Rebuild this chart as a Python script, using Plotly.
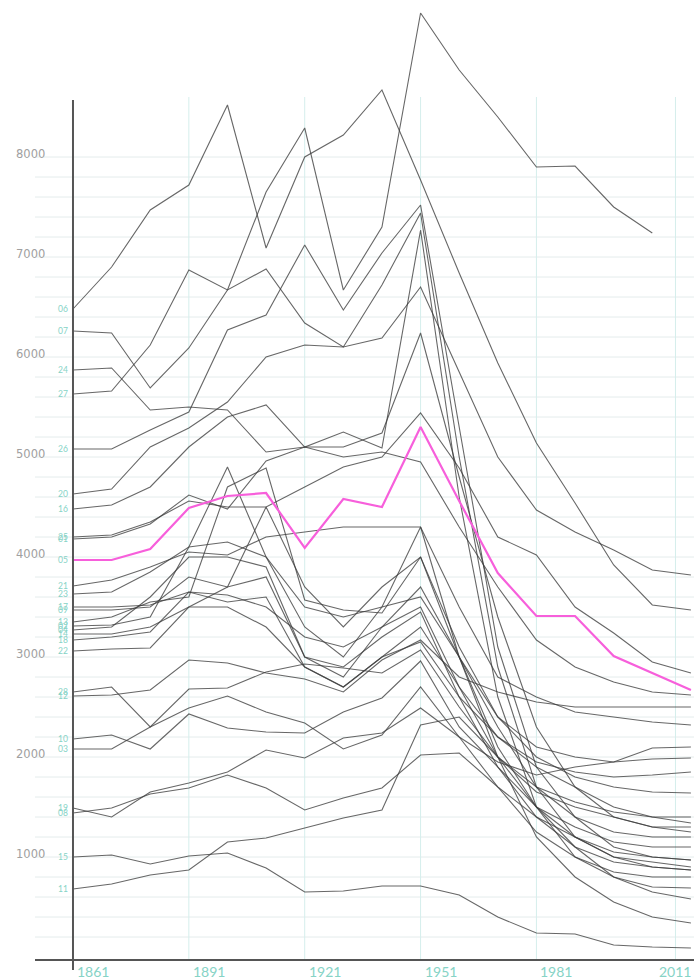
import plotly.graph_objects as go

# ---------------- data ----------------
YEARS = [1861, 1871, 1881, 1891, 1901, 1911, 1921, 1931, 1941, 1951,
         1961, 1971, 1981, 1991, 2001, 2011, 2021]
TICK_LABELS = ["1861", "1891", "1921", "1951", "1981", "2011"]
TICK_POS = [1861, 1891, 1921, 1951, 1981, 2017]
Y_LABELS = [1000, 2000, 3000, 4000, 5000, 6000, 7000, 8000]
HIGHLIGHT = "05"

S06 = [6480, 6900, 7470, 7720, 8520, 7090, 8000, 8220, 8670, 7770, 6840, 5940, 5140, 4540, 3920, 3520, 3470]
S07 = [6260, 6240, 5690, 6090, 6670, 7650, 8290, 6670, 7300, 9440, 8870, 8400, 7900, 7910, 7500, 7240, None]
S24 = [5870, 5890, 5470, 5500, 5470, 5050, 5100, 5100, 5240, 6240, 4800, 3400, 2300, 1700, 1400, 1300, 1300]
S27 = [5630, 5660, 6120, 6870, 6670, 6880, 6340, 6100, 6190, 6700, 5850, 5000, 4470, 4250, 4070, 3870, 3820]
S26 = [5080, 5080, 5270, 5450, 6270, 6420, 7120, 6470, 7040, 7520, 5300, 3100, 1900, 1400, 1100, 1000, 970]
S20 = [4630, 4680, 5100, 5290, 5550, 6000, 6120, 6100, 6720, 7440, 5000, 2900, 1700, 1200, 1000, 950, 900]
S16 = [4480, 4520, 4700, 5100, 5400, 5520, 5100, 5250, 5090, 7270, 4600, 2600, 1500, 1000, 800, 700, 690]
S25 = [4200, 4220, 4350, 4560, 4500, 4500, 4700, 4900, 5000, 5440, 4890, 4200, 4020, 3500, 3240, 2950, 2840]
S01 = [4180, 4200, 4330, 4620, 4480, 4960, 5100, 5000, 5050, 4950, 4300, 3700, 3170, 2900, 2750, 2650, 2620]
S05 = [3970, 3970, 4080, 4490, 4610, 4640, 4090, 4580, 4500, 5300, 4560, 3840, 3410, 3410, 3010, 2840, 2670]
S21 = [3710, 3770, 3900, 4050, 4020, 4200, 4250, 4300, 4300, 4300, 3500, 2800, 2600, 2450, 2400, 2350, 2320]
S23 = [3630, 3650, 3850, 4100, 4150, 4000, 3500, 3400, 3500, 3600, 3000, 2300, 1700, 1400, 1250, 1200, 1200]
S17 = [3500, 3500, 3520, 3650, 3620, 3500, 3200, 3100, 3300, 3500, 2700, 2000, 1500, 1200, 1050, 1000, 970]
S09 = [3470, 3470, 3500, 3800, 3700, 3800, 3000, 2900, 3200, 3450, 2600, 1900, 1400, 1100, 950, 900, 870]
S13 = [3350, 3400, 3550, 3600, 4700, 4890, 3570, 3470, 3440, 4000, 3000, 2100, 1500, 1100, 800, 650, 580]
S02 = [3310, 3320, 3400, 4100, 4900, 4000, 3300, 3000, 3500, 4300, 3000, 2000, 1200, 800, 550, 400, 340]
S04 = [3270, 3300, 3600, 4000, 4000, 3900, 3000, 2800, 3300, 3700, 3000, 2400, 2100, 2000, 1950, 1980, 1990]
S14 = [3230, 3230, 3300, 3500, 3700, 4500, 3700, 3300, 3700, 4000, 3100, 2400, 2000, 1800, 1700, 1650, 1640]
S18 = [3170, 3200, 3250, 3650, 3550, 3600, 2900, 2700, 3000, 3300, 2700, 2200, 1900, 1700, 1500, 1400, 1340]
S22 = [3060, 3080, 3090, 3500, 3500, 3300, 2900, 2700, 3000, 3150, 2600, 2200, 1950, 1850, 1800, 1820, 1850]
S28 = [2650, 2700, 2300, 2680, 2690, 2850, 2930, 2890, 2840, 3070, 2500, 2000, 1700, 1550, 1450, 1400, 1400]
S12 = [2610, 2620, 2670, 2970, 2940, 2840, 2780, 2650, 2970, 3170, 2800, 2650, 2550, 2500, 2500, 2500, 2500]
S10 = [2180, 2220, 2080, 2430, 2290, 2250, 2240, 2450, 2590, 2960, 2300, 1900, 1500, 1300, 1150, 1100, 1100]
S03 = [2080, 2080, 2300, 2490, 2610, 2450, 2340, 2080, 2220, 2700, 2200, 1700, 1250, 1000, 850, 800, 800]
S19 = [1490, 1400, 1650, 1740, 1850, 2070, 1990, 2190, 2240, 2490, 2200, 1950, 1820, 1900, 1950, 2090, 2100]
S08 = [1440, 1490, 1630, 1690, 1820, 1690, 1470, 1590, 1690, 2020, 2040, 1700, 1400, 1200, 1000, 900, 870]
S15 = [1000, 1020, 930, 1010, 1040, 890, 650, 660, 710, 710, 620, 400, 240, 230, 120, 100, 90]
S11 = [680, 730, 820, 870, 1150, 1190, 1290, 1390, 1470, 2320, 2400, 2000, 1650, 1500, 1400, 1300, 1250]

SERIES = {
    "06": S06, "07": S07, "24": S24, "27": S27, "26": S26, "20": S20, "16": S16,
    "25": S25, "01": S01, "05": S05, "21": S21, "23": S23, "17": S17, "09": S09,
    "13": S13, "02": S02, "04": S04, "14": S14, "18": S18, "22": S22, "28": S28,
    "12": S12, "10": S10, "03": S03, "19": S19, "08": S08, "15": S15, "11": S11,
}

# ---------------- style ----------------
W, H = 694, 979
X_RANGE = [1842.1, 2021.8]
Y_RANGE = [-220, 9570]
GREY_LINE = "rgba(60,60,60,0.78)"
PINK = "#f75fdb"
TEAL = "#86d3c6"
GRID_H = "#e4ecec"
GRID_V = "#d5eeec"
AXIS = "#555555"
FONT = "Lato"


def px_to_x(px):
    return X_RANGE[0] + px / W * (X_RANGE[1] - X_RANGE[0])


fig = go.Figure()

# grey lines first, highlighted one last
for name, vals in SERIES.items():
    if name == HIGHLIGHT:
        continue
    fig.add_trace(go.Scatter(x=YEARS, y=vals, mode="lines", name=name,
                             line=dict(color=GREY_LINE, width=1.1),
                             hoverinfo="name+x+y", showlegend=False))
fig.add_trace(go.Scatter(x=YEARS, y=SERIES[HIGHLIGHT], mode="lines", name=HIGHLIGHT,
                         line=dict(color=PINK, width=2.2),
                         hoverinfo="name+x+y", showlegend=False))

shapes = []
# horizontal grid lines every 200
for v in range(200, 8001, 200):
    shapes.append(dict(type="line", xref="x", yref="y", x0=px_to_x(35), x1=X_RANGE[1],
                       y0=v, y1=v, line=dict(color=GRID_H, width=1), layer="below"))
# vertical grid lines
for xv in TICK_POS[1:]:
    shapes.append(dict(type="line", xref="x", yref="y", x0=xv, x1=xv,
                       y0=-30, y1=8600, line=dict(color=GRID_V, width=1), layer="below"))
# axes
shapes.append(dict(type="line", xref="x", yref="y", x0=px_to_x(35), x1=X_RANGE[1],
                   y0=-30, y1=-30, line=dict(color=AXIS, width=2)))
shapes.append(dict(type="line", xref="x", yref="y", x0=TICK_POS[0], x1=TICK_POS[0],
                   y0=-130, y1=8570, line=dict(color=AXIS, width=2)))

ann = []
for v in Y_LABELS:
    ann.append(dict(xref="x", yref="y", x=px_to_x(47), y=v, yshift=3, text=str(v),
                    showarrow=False, xanchor="right", yanchor="middle",
                    font=dict(family="DejaVu Sans", size=11.5, color="#a0a0a0")))
for i, (pos, lab) in enumerate(zip(TICK_POS, TICK_LABELS)):
    last = i == len(TICK_POS) - 1
    ann.append(dict(xref="x", yref="y", x=pos, y=-30, yshift=-11, text=lab,
                    showarrow=False, xanchor="center" if last else "left",
                    xshift=0 if last else 2, yanchor="middle",
                    font=dict(family=FONT, size=14, color=TEAL)))
for name, vals in SERIES.items():
    ann.append(dict(xref="x", yref="y", x=YEARS[0], y=vals[0], xshift=-3, text=name,
                    showarrow=False, xanchor="right", yanchor="middle",
                    font=dict(family=FONT, size=8.5, color=TEAL)))

fig.update_layout(
    width=W, height=H,
    margin=dict(l=0, r=0, t=0, b=0),
    paper_bgcolor="white", plot_bgcolor="white",
    xaxis=dict(range=X_RANGE, visible=False, fixedrange=True),
    yaxis=dict(range=Y_RANGE, visible=False, fixedrange=True),
    shapes=shapes, annotations=ann, showlegend=False,
)

fig.write_html("out.html", config={"displayModeBar": False},
               post_script="document.body.style.margin='0';document.body.style.overflow='hidden';")
